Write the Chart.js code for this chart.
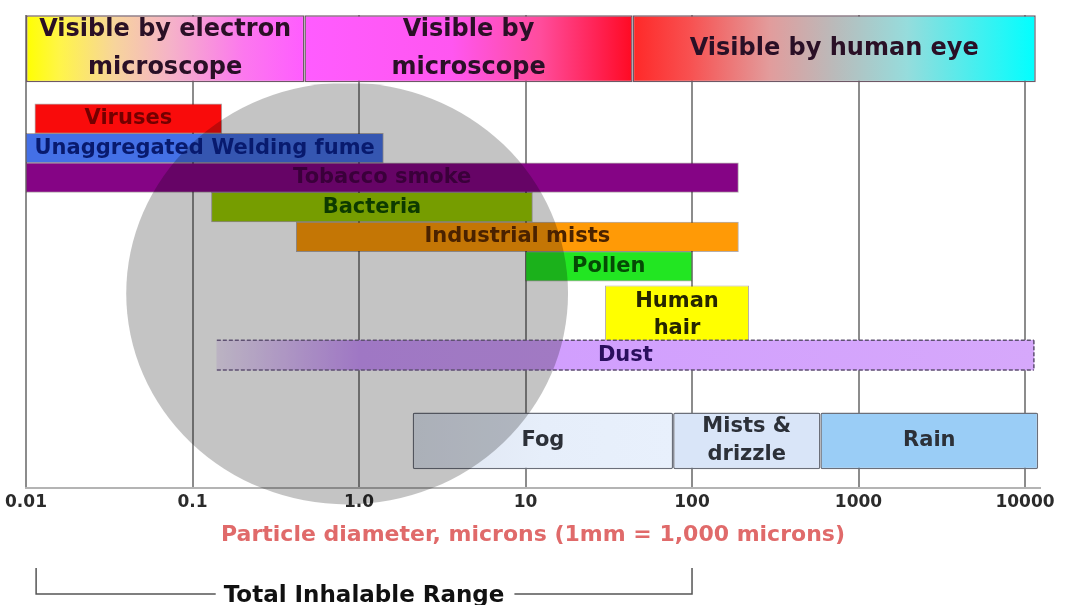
<!DOCTYPE html>
<html>
<head>
<meta charset="utf-8">
<title>Particle sizes</title>
<script src="https://cdn.jsdelivr.net/npm/chart.js@4.4.1/dist/chart.umd.min.js"></script>
<style>
  html, body { margin: 0; background: #fff; }
  canvas { display: block; }
</style>
</head>
<body>
<canvas id="sizes" width="1075" height="605"></canvas>
<script>
// x axis (microns, log scale)
const tickValues = [0.01, 0.1, 1, 10, 100, 1000, 10000];
const tickLabels = ['0.01', '0.1', '1.0', '10', '100', '1000', '10000'];

// what can see it
const bandNames = ['Visible by electron\nmicroscope', 'Visible by\nmicroscope', 'Visible by human eye'];
const bandFrom = [0.01, 0.47, 44];
const bandTo = [0.47, 44, 11600];

// particle size ranges
const particles = ['Viruses', 'Unaggregated Welding fume', 'Tobacco smoke', 'Bacteria', 'Industrial mists', 'Pollen', 'Human\nhair', 'Dust'];
const particleFrom = [0.0113, 0.01, 0.01, 0.13, 0.42, 10, 30, 0.14];
const particleTo = [0.15, 1.4, 190, 11, 190, 100, 220, 11300];

// water droplets
const droplets = ['Fog', 'Mists &\ndrizzle', 'Rain'];
const dropletFrom = [2.1, 77, 590];
const dropletTo = [77, 590, 12000];

const inhalableRange = [0.0115, 100];
const shadedRange = [0.04, 18];

// row slots of the hidden category axes
const bandRows = ['bands', 'u1', 'u2', 'u3', 'u4', 'u5', 'u6'];
const mainRows = ['r0', 'r1', 'r2', 'Viruses', 'Unaggregated Welding fume', 'Tobacco smoke', 'Bacteria',
    'Industrial mists', 'Pollen', 'r9', 'r10', 'Dust', 'r12', 'r13', 'r14', 'r15'];
const tallRows = ['t0', 't1', 't2', 't3', 't4', 't5', 't6', 't7', 't8', 'Human\nhair', 't10', 't11', 't12', 'drops', 't14'];

const FONT = '"DejaVu Sans", Verdana, sans-serif';

function spanGradient(c, stops, fallback) {
    const chart = c.chart;
    if (!chart.chartArea || c.type !== 'data') return fallback;
    const xs = chart.scales.x;
    const x0 = xs.getPixelForValue(c.raw.x[0]);
    const x1 = xs.getPixelForValue(c.raw.x[1]);
    const g = chart.ctx.createLinearGradient(x0, 0, x1, 0);
    stops.forEach(([p, col]) => g.addColorStop(p, col));
    return g;
}

const bandStops = [
    [[0, '#ffff00'], [0.12, '#fff548'], [0.32, '#f7d49c'], [0.52, '#f5b2c8'], [0.78, '#fc78ee'], [1, '#ff5cff']],
    [[0, '#ff5cff'], [0.45, '#ff56f0'], [0.72, '#ff4c9c'], [0.9, '#ff2050'], [1, '#ff0a22']],
    [[0, '#ff2828'], [0.14, '#f85050'], [0.34, '#e29c9c'], [0.5, '#bababa'], [0.68, '#96dcdc'], [1, '#00ffff']]
];

function dustFill(c) {
    const chart = c.chart;
    if (!chart.chartArea) return '#d4a4fc';
    const xs = chart.scales.x;
    const x0 = xs.getPixelForValue(c.raw.x[0]);
    const x1 = xs.getPixelForValue(c.raw.x[1]);
    const xm = xs.getPixelForValue(1);
    const g = chart.ctx.createLinearGradient(x0, 0, x1, 0);
    g.addColorStop(0, '#f3e9fd');
    g.addColorStop((xm - x0) / (x1 - x0), '#cf9bff');
    g.addColorStop(1, '#d6a8fb');
    return g;
}

const particleStyle = {
    'Viruses': { fill: '#f90b0b', text: '#730000' },
    'Unaggregated Welding fume': { fill: '#4470e6', text: '#081a6e' },
    'Tobacco smoke': { fill: '#850485', text: '#3a003a' },
    'Bacteria': { fill: '#99cc00', text: '#0d3a00' },
    'Industrial mists': { fill: '#ff9a06', text: '#4a2200' },
    'Pollen': { fill: '#22e622', text: '#054a05' },
    'Human\nhair': { fill: '#ffff00', text: '#262600' },
    'Dust': { fill: dustFill, text: '#2a0f5e', dashed: true }
};

function particleSet(rows, axis, pct) {
    const idx = particles.map((n, i) => i).filter(i => rows.includes(particles[i]));
    const styleOf = c => particleStyle[particles[idx[c.dataIndex]]];
    return {
        yAxisID: axis,
        data: idx.map(i => ({ x: [particleFrom[i], particleTo[i]], y: particles[i] })),
        names: idx.map(i => particles[i]),
        textColor: idx.map(i => particleStyle[particles[i]].text),
        dashed: idx.map(i => !!particleStyle[particles[i]].dashed),
        textSize: 21,
        lineGap: 27,
        categoryPercentage: pct,
        barPercentage: 1,
        backgroundColor: c => {
            if (c.type !== 'data') return '#888';
            const f = styleOf(c).fill;
            return typeof f === 'function' ? f(c) : f;
        },
        borderColor: 'rgba(40,20,20,0.35)',
        borderWidth: c => (c.type === 'data' && styleOf(c).dashed) ? 0 : 1,
        borderSkipped: false
    };
}

const datasets = [
    {
        yAxisID: 'y3',
        data: bandNames.map((n, i) => ({ x: [bandFrom[i], bandTo[i]], y: 'bands' })),
        names: bandNames,
        textColor: '#2a1026',
        textSize: 24,
        lineGap: 38,
        categoryPercentage: 0.99,
        barPercentage: 1,
        clip: false,
        backgroundColor: c => spanGradient(c, bandStops[c.dataIndex] || bandStops[0], '#ff80ff'),
        borderColor: '#6e5866',
        borderWidth: 1.5,
        borderSkipped: false
    },
    particleSet(mainRows, 'y', 1),
    particleSet(tallRows, 'y2', 1.85),
    {
        yAxisID: 'y2',
        data: droplets.map((n, i) => ({ x: [dropletFrom[i], dropletTo[i]], y: 'drops' })),
        names: droplets,
        textColor: '#2c3038',
        textSize: 21,
        lineGap: 28,
        categoryPercentage: 1.8,
        barPercentage: 1,
        backgroundColor: c => {
            if (c.type !== 'data') return '#dde6f5';
            if (c.dataIndex === 0) return spanGradient(c, [[0, '#dfe5f0'], [0.5, '#e6eefa'], [1, '#e8f0fc']], '#e4ecf8');
            return ['#e4ecf8', '#d9e5f8', '#9acdf6'][c.dataIndex];
        },
        borderColor: '#6b6f7a',
        borderWidth: 1.5,
        borderRadius: 2,
        borderSkipped: false
    }
];

const whiteBack = {
    id: 'whiteBack',
    beforeDraw(chart) {
        const { ctx } = chart;
        ctx.save();
        ctx.fillStyle = '#ffffff';
        ctx.fillRect(0, 0, chart.width, chart.height);
        ctx.restore();
    }
};

const overlays = {
    id: 'overlays',
    afterDatasetsDraw(chart) {
        const { ctx, chartArea } = chart;
        const xs = chart.scales.x;
        const yb = chart.scales.y3;
        const bandStep = yb.getPixelForValue(1) - yb.getPixelForValue(0);

        // grey disc, multiplied over the bars
        const left = xs.getPixelForValue(shadedRange[0]);
        const right = xs.getPixelForValue(shadedRange[1]);
        const top = yb.getPixelForValue(0) + bandStep / 2;
        const bottom = chartArea.bottom + (chartArea.bottom - top) * 0.04;
        ctx.save();
        ctx.beginPath();
        ctx.rect(0, top + 1, chart.width, chart.height);
        ctx.clip();
        ctx.globalCompositeOperation = 'multiply';
        ctx.fillStyle = '#c4c4c4';
        ctx.beginPath();
        ctx.ellipse((left + right) / 2, (top + bottom) / 2, (right - left) / 2, (bottom - top) / 2, 0, 0, Math.PI * 2);
        ctx.fill();
        ctx.restore();

        chart.data.datasets.forEach((ds, di) => {
            const meta = chart.getDatasetMeta(di);
            meta.data.forEach((bar, i) => {
                const { x, y, base, height } = bar.getProps(['x', 'y', 'base', 'height'], true);
                if (ds.dashed && ds.dashed[i]) {
                    const t = y - height / 2, b = y + height / 2;
                    ctx.save();
                    ctx.setLineDash([4, 2]);
                    ctx.strokeStyle = '#5f5272';
                    ctx.lineWidth = 1.5;
                    ctx.beginPath();
                    ctx.moveTo(base, t); ctx.lineTo(x, t);
                    ctx.moveTo(base, b); ctx.lineTo(x, b);
                    ctx.moveTo(x, t); ctx.lineTo(x, b);
                    ctx.stroke();
                    ctx.restore();
                }
                const lines = ds.names[i].split('\n');
                ctx.save();
                ctx.font = `bold ${ds.textSize}px ${FONT}`;
                ctx.fillStyle = Array.isArray(ds.textColor) ? ds.textColor[i] : ds.textColor;
                ctx.textAlign = 'center';
                ctx.textBaseline = 'middle';
                const cx = (x + base) / 2;
                lines.forEach((txt, k) => {
                    ctx.fillText(txt, cx, y + (k - (lines.length - 1) / 2) * ds.lineGap);
                });
                ctx.restore();
            });
        });
    }
};

const inhalable = {
    id: 'inhalable',
    afterDraw(chart) {
        const { ctx } = chart;
        const xs = chart.scales.x;
        const a = xs.getPixelForValue(inhalableRange[0]);
        const b = xs.getPixelForValue(inhalableRange[1]);
        const lineY = xs.bottom + 46;
        const text = 'Total Inhalable Range';
        ctx.save();
        ctx.font = `bold 23px ${FONT}`;
        const w = ctx.measureText(text).width;
        const mid = (a + b) / 2;
        ctx.strokeStyle = '#555';
        ctx.lineWidth = 1.5;
        ctx.beginPath();
        ctx.moveTo(a, lineY - 26); ctx.lineTo(a, lineY); ctx.lineTo(mid - w / 2 - 8, lineY);
        ctx.moveTo(mid + w / 2 + 10, lineY); ctx.lineTo(b, lineY); ctx.lineTo(b, lineY - 26);
        ctx.stroke();
        ctx.fillStyle = '#111';
        ctx.textAlign = 'center';
        ctx.textBaseline = 'alphabetic';
        ctx.fillText(text, mid, lineY + 8);
        ctx.restore();
    }
};

Chart.defaults.font.family = FONT;

new Chart(document.getElementById('sizes'), {
    type: 'bar',
    data: { datasets },
    plugins: [whiteBack, overlays, inhalable],
    options: {
        indexAxis: 'y',
        responsive: false,
        animation: false,
        events: [],
        devicePixelRatio: 1,
        layout: { padding: { left: 26, right: 35, top: 15, bottom: 57 } },
        datasets: { bar: { grouped: false } },
        plugins: {
            legend: { display: false },
            tooltip: { enabled: false }
        },
        scales: {
            x: {
                type: 'logarithmic',
                min: 0.01,
                max: 12300,
                bounds: 'data',
                afterBuildTicks: scale => {
                    scale.ticks = tickValues.map(v => ({ value: v }));
                },
                ticks: {
                    autoSkip: false,
                    maxRotation: 0,
                    padding: 4,
                    color: '#2b2b2b',
                    font: { size: 17, weight: 'bold' },
                    callback: (v, i) => tickLabels[i]
                },
                grid: { color: '#8c8c8c', lineWidth: 2, drawTicks: false },
                border: { display: true, color: '#b4b4b4', width: 2 },
                title: {
                    display: true,
                    text: 'Particle diameter, microns (1mm = 1,000 microns)',
                    color: '#e06a6a',
                    font: { size: 22, weight: 'bold' },
                    padding: { top: 5, bottom: 0 }
                }
            },
            y: { type: 'category', labels: mainRows, offset: true, display: false },
            y2: { type: 'category', labels: tallRows, offset: true, display: false },
            y3: { type: 'category', labels: bandRows, offset: true, display: false }
        }
    }
});
</script>
</body>
</html>
